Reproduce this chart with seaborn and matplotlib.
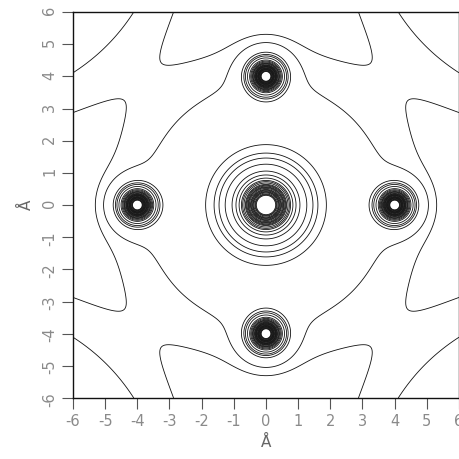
import numpy as np
import matplotlib
matplotlib.use("Agg")
import matplotlib.pyplot as plt
import seaborn as sns

# ============================================================
# Model of the density map (centre atom + 4 satellites + neighbours)
# ============================================================
sat_x = [-4.0, 4.0, 0.0, 0.0]
sat_y = [0.0, 0.0, -4.0, 4.0]
nb_x = [-10.0, 10.0, -10.0, 10.0]
nb_y = [10.0, 10.0, -10.0, -10.0]

# (amplitude, length) of each radial term
center_core = [(86.26, 0.35), (1.5e6, 0.06)]
center_tail = (0.802, 3.4)
sat_core = [(121.7, 0.15), (5.8e5, 0.037)]
sat_tail = (0.0867, 1.1)
nb_tail = (2.92, 4.5)

# contour levels
ring_levels = [1, 1.5, 2, 3, 5, 7, 10, 15, 20, 30, 50, 70, 100, 150, 200, 300,
               500, 700, 1000, 1500, 2000, 3000, 5000, 7000, 10000]
outer_levels = [0.1257, 0.2473]

ticks = list(range(-6, 7))


def density(x, y):
    r = np.hypot(x, y)
    f = sum(a * np.exp(-r / l) for a, l in center_core)
    f = f + center_tail[0] * np.exp(-(r / center_tail[1]) ** 2)
    for sx, sy in zip(sat_x, sat_y):
        d = np.hypot(x - sx, y - sy)
        f = f + sum(a * np.exp(-d / l) for a, l in sat_core)
        f = f + sat_tail[0] * np.exp(-(d / sat_tail[1]) ** 2)
    for nx, ny in zip(nb_x, nb_y):
        d = np.hypot(x - nx, y - ny)
        f = f + nb_tail[0] * np.exp(-(d / nb_tail[1]) ** 2)
    return f


g = np.linspace(-6, 6, 1201)
X, Y = np.meshgrid(g, g)
Z = np.log(density(X, Y))
levels = np.log(sorted(outer_levels + ring_levels))

# ============================================================
# Plot
# ============================================================
sns.set_style("ticks")
plt.rcParams["axes.unicode_minus"] = False

fig = plt.figure(figsize=(4.6, 4.59), dpi=100)
ax = fig.add_axes([73 / 460, 61 / 459, 386 / 460, 386 / 459])
ax.contour(X, Y, Z, levels=levels, colors="#111111", linewidths=0.6, linestyles="solid")

ax.set_xlim(-6, 6)
ax.set_ylim(-6, 6)
ax.set_xticks(ticks)
ax.set_yticks(ticks)
ax.tick_params(direction="out", length=8, width=0.8, labelsize=10.5,
               labelcolor="#8a8a8a", color="#555555")
ax.tick_params(axis="y", labelrotation=90)
for s in ax.spines.values():
    s.set_linewidth(1.0)
    s.set_color("#111111")
ax.set_xlabel("Å", color="#666666", fontsize=11)
ax.set_ylabel("Å", color="#666666", fontsize=11, labelpad=6)

plt.savefig("out.png", dpi=100)
